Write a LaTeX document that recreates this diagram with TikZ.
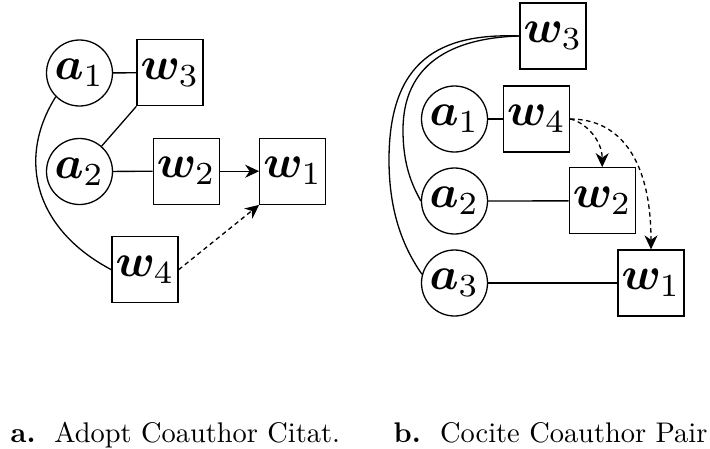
\documentclass[tikz,border=0pt]{standalone}
\usepackage{amsmath,bm}
\usetikzlibrary{arrows.meta}
\newcommand{\bigmath}[1]{\scalebox{4.6}{$#1$}}
\begin{document}
\begin{tikzpicture}[x=1pt,y=1pt,
  auth/.style={draw, circle, minimum size=66pt, inner sep=0pt, line width=1.3pt},
  work/.style={draw, rectangle, minimum size=66pt, inner sep=0pt, line width=1.3pt},
  lnk/.style={line width=1.3pt},
  cite/.style={line width=1.3pt, -{Stealth[length=14pt,width=13pt,inset=4.5pt]}},
  dcite/.style={cite, dash pattern=on 4.5pt off 3.5pt},
  captext/.style={anchor=base west, inner sep=0pt}
]
\useasboundingbox (0,0) rectangle (710,-448);
% left panel
\node[auth] (la1) at (79.5,-73) {\bigmath{\bm{a}_1}};
\node[work] (lw3) at (170,-72.7) {\bigmath{\bm{w}_3}};
\node[auth] (la2) at (79.5,-171.5) {\bigmath{\bm{a}_2}};
\node[work] (lw2) at (186.3,-171.2) {\bigmath{\bm{w}_2}};
\node[work] (lw1) at (292.8,-171.2) {\bigmath{\bm{w}_1}};
\node[work] (lw4) at (145,-269.7) {\bigmath{\bm{w}_4}};
\draw[lnk] (la1) -- (lw3);
\draw[lnk] (la2) -- (lw3.south west);
\draw[lnk] (la2) -- (lw2);
\draw[cite] (lw2) -- (lw1);
\draw[dcite] (lw4.east) -- (lw1.south west);
\draw[lnk] (la1.225) .. controls (16,-160) and (36,-230) .. (lw4.west);
% right panel
\node[work] (rw3) at (553,-36) {\bigmath{\bm{w}_3}};
\node[auth] (ra1) at (454.5,-119) {\bigmath{\bm{a}_1}};
\node[work] (rw4) at (536.5,-119) {\bigmath{\bm{w}_4}};
\node[auth] (ra2) at (454.5,-201) {\bigmath{\bm{a}_2}};
\node[work] (rw2) at (602.2,-200.8) {\bigmath{\bm{w}_2}};
\node[auth] (ra3) at (454.5,-283) {\bigmath{\bm{a}_3}};
\node[work] (rw1) at (651,-283) {\bigmath{\bm{w}_1}};
\draw[lnk] (ra1) -- (rw4);
\draw[lnk] (ra2) -- (rw2);
\draw[lnk] (ra3) -- (rw1);
\draw[dcite] (rw4.east) .. controls (585,-122) and (602.2,-140) .. (rw2.north);
\draw[dcite] (rw4.east) .. controls (620,-119) and (651,-160) .. (rw1.north);
\draw[lnk] (rw3.west) .. controls (440,-33) and (389,-60) .. (389,-160) .. controls (389,-215) and (405,-250) .. (ra3.165);
\draw[lnk] (rw3.west) .. controls (450,-38) and (403,-65) .. (403,-130) .. controls (403,-165) and (412,-185) .. (ra2.west);
% captions
\node[captext] (capa) at (10.5,-442) {\scalebox{2.84}{\textbf{a.}\hspace{6.6pt}Adopt Coauthor Citat.}};
\node[captext] (capb) at (393.5,-442) {\scalebox{2.84}{\textbf{b.}\hspace{6.8pt}Cocite Coauthor Pair}};
\end{tikzpicture}
\end{document}
